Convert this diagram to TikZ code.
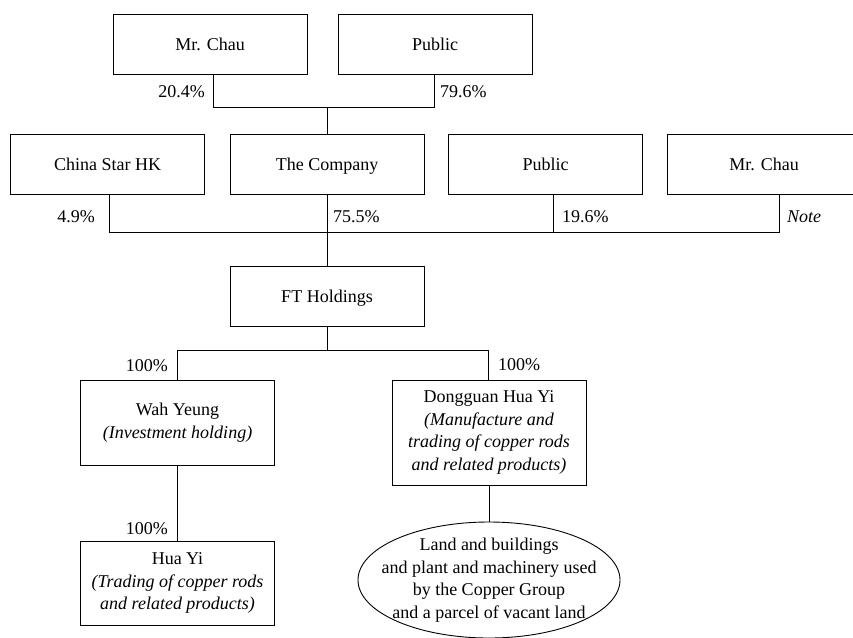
\documentclass[tikz,border=0pt]{standalone}
\usepackage{fontspec}
\setmainfont{Liberation Serif}
\usetikzlibrary{shapes.geometric,calc}
\begin{document}
\begin{tikzpicture}[x=1pt,y=-1pt,
  every node/.style={font=\fontsize{18}{22.5}\selectfont},
  ent/.style={draw,line width=0.9pt,minimum width=194pt,inner sep=0pt,align=center},
  one/.style={ent,minimum height=60pt,text height=13pt,text depth=1pt},
  lbl/.style={inner sep=0pt},
  conn/.style={line width=0.9pt}]
\useasboundingbox (0,0) rectangle (853,637);
% top row
\node[one] (mc1) at (210,44) {Mr. Chau};
\node[one] (pub1) at (435,44) {Public};
% second row
\node[one] (csh) at (107.5,164) {China Star HK};
\node[one] (comp) at (327,164) {The Company};
\node[one] (pub2) at (545.5,164) {Public};
\node[one] (mc2) at (764,164) {Mr. Chau};
% FT Holdings
\node[one] (fth) at (327,296) {FT Holdings};
% subsidiaries
\node[ent,minimum height=85pt] (wy) at (177.5,422.5) {Wah Yeung\\\textit{(Investment holding)}};
\node[ent,minimum height=105pt] (dg) at (489,432.5) {Dongguan Hua Yi\\\textit{(Manufacture and}\\\textit{trading of copper rods}\\\textit{and related products)}};
\node[ent,minimum height=84pt] (hy) at (177.5,583) {Hua Yi\\\textit{(Trading of copper rods}\\\textit{and related products)}};
\node[draw,line width=0.9pt,ellipse,minimum width=262pt,minimum height=116pt,inner xsep=-30pt,inner ysep=-10pt,align=center] (land) at (489,580)
  {Land and buildings\\and plant and machinery used\\by the Copper Group\\and a parcel of vacant land};
% junction coordinates
\coordinate (j1) at (327,107);
\coordinate (j2) at (327,232);
\coordinate (j3) at (327,350);
% connectors top
\draw[conn] ($(mc1.south)+(3,0)$) |- (j1);
\draw[conn] ($(pub1.south)+(-1,0)$) |- (j1);
\draw[conn] (j1) -- (comp.north);
% connectors second row
\draw[conn] ($(csh.south)+(1.5,0)$) |- (j2);
\draw[conn] (comp.south) -- (j2);
\draw[conn] ($(pub2.south)+(7.5,0)$) |- (j2);
\draw[conn] ($(mc2.south)+(15,0)$) |- (j2);
\draw[conn] (j2) -- (fth.north);
% FT Holdings down
\draw[conn] (fth.south) -- (j3);
\draw[conn] (wy.north) |- (j3);
\draw[conn] ($(dg.north)+(-1,0)$) |- (j3);
\draw[conn] (wy.south) -- (hy.north);
\draw[conn] (dg.south) -- (land.north);
% labels
\node[lbl,anchor=east] (l1) at (205,92) {20.4\%};
\node[lbl,anchor=west] (l2) at (440,92) {79.6\%};
\node[lbl,anchor=east] (l3) at (95,217) {4.9\%};
\node[lbl,anchor=west] (l4) at (333,217) {75.5\%};
\node[lbl,anchor=west] (l5) at (562,217) {19.6\%};
\node[lbl,anchor=west] (l6) at (787,217) {\textit{Note}};
\node[lbl,anchor=east] (l7) at (168,366) {100\%};
\node[lbl,anchor=west] (l8) at (498,365) {100\%};
\node[lbl,anchor=east] (l9) at (168,529) {100\%};
\end{tikzpicture}
\end{document}
